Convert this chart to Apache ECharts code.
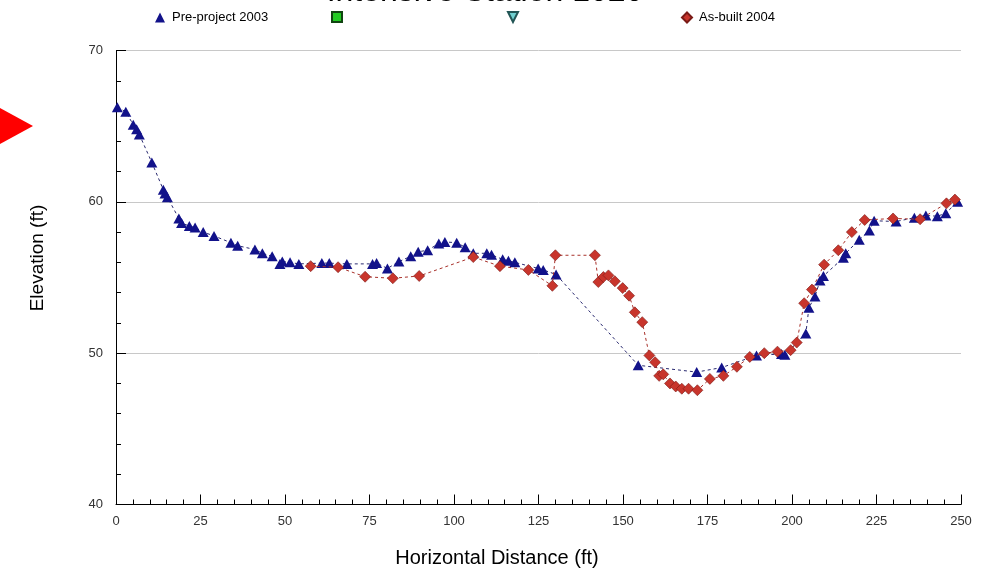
<!DOCTYPE html>
<html>
<head>
<meta charset="utf-8">
<script src="https://cdn.jsdelivr.net/npm/echarts@6/dist/echarts.min.js"></script>
<style>html,body{margin:0;padding:0;background:#fff;}#chart{width:981px;height:573px;}</style>
</head>
<body>
<div id="chart"></div>
<script>
// Pre-project 2003 survey points (horizontal distance ft, elevation ft)
const preX = [0.4, 2.9, 5.1, 6.1, 6.9, 10.6, 14.0, 14.5, 15.2, 18.6, 19.4, 21.7, 23.4, 25.8, 29.0, 34.0, 36.0, 41.1, 43.3, 46.2, 48.5, 49.2, 51.5, 54.1, 60.9, 63.1, 68.3, 75.9, 77.1, 80.3, 83.7, 87.2, 89.4, 92.2, 95.5, 97.3, 100.8, 103.3, 105.7, 109.7, 111.1, 114.4, 116.1, 118.0, 124.9, 126.4, 130.2, 154.5, 171.8, 179.2, 189.5, 196.9, 197.9, 204.1, 205.0, 206.8, 208.3, 209.3, 215.2, 215.9, 219.9, 222.9, 224.3, 230.8, 236.2, 239.6, 243.0, 245.5, 249.0];
const preY = [66.25, 65.95, 65.1, 64.8, 64.45, 62.6, 60.8, 60.55, 60.3, 58.9, 58.6, 58.4, 58.3, 58.0, 57.75, 57.3, 57.1, 56.85, 56.6, 56.4, 55.9, 56.05, 56.0, 55.9, 55.95, 55.95, 55.9, 55.9, 55.95, 55.6, 56.05, 56.4, 56.7, 56.8, 57.25, 57.35, 57.3, 57.0, 56.6, 56.6, 56.5, 56.2, 56.1, 56.0, 55.6, 55.5, 55.2, 49.2, 48.75, 49.05, 49.85, 49.95, 49.9, 51.3, 53.0, 53.75, 54.8, 55.1, 56.3, 56.6, 57.5, 58.1, 58.75, 58.7, 58.95, 59.1, 59.05, 59.25, 60.0];
// As-built 2004 survey points
const asbX = [57.6, 65.7, 73.7, 81.9, 89.7, 105.7, 113.6, 122.0, 129.1, 130.0, 141.7, 142.7, 144.2, 145.7, 147.6, 149.9, 151.8, 153.5, 155.7, 157.8, 159.5, 160.7, 161.9, 163.9, 165.6, 167.4, 169.4, 172.0, 175.7, 179.7, 183.7, 187.5, 191.8, 195.7, 199.6, 201.4, 203.6, 205.9, 209.5, 213.7, 217.7, 221.5, 229.9, 237.9, 245.7, 248.2];
const asbY = [55.75, 55.68, 55.05, 54.95, 55.1, 56.35, 55.75, 55.5, 54.45, 56.47, 56.47, 54.7, 55.03, 55.14, 54.75, 54.3, 53.8, 52.7, 52.05, 49.85, 49.4, 48.5, 48.6, 48.0, 47.8, 47.65, 47.65, 47.55, 48.3, 48.5, 49.1, 49.75, 50.0, 50.1, 50.2, 50.7, 53.3, 54.2, 55.85, 56.8, 58.0, 58.8, 58.9, 58.85, 59.9, 60.15];
const seriesNames = ['Pre-project 2003', 'Series 2', 'Series 3', 'As-built 2004'];
const xTicks = {min: 0, max: 250, interval: 25};
const yTicks = {min: 40, max: 70, interval: 10};

const FONT = '"Liberation Sans", Arial, sans-serif';
const chart = echarts.init(document.getElementById('chart'), null, {renderer: 'canvas'});
const pair = (xs, ys) => xs.map((x, i) => [x, ys[i]]);
const invTri = 'path://M0,0 L10,0 L5,10 Z';

function legendAt(left, name, icon, showText) {
  return {
    left: left, top: 11, padding: 0, itemWidth: 10, itemHeight: 10, itemGap: 0,
    selectedMode: false,
    data: [{name: name, icon: icon}],
    formatter: showText ? '{name}' : function () { return ''; },
    textStyle: {fontFamily: FONT, fontSize: 13, color: '#000', padding: [0, 0, 0, 2]}
  };
}

chart.setOption({
  animation: false,
  backgroundColor: '#fff',
  grid: {left: 116, right: 20, top: 50.5, bottom: 68.5, containLabel: false},
  legend: [
    legendAt(155, seriesNames[0], 'triangle', true),
    legendAt(331, seriesNames[1], 'rect', false),
    legendAt(507, seriesNames[2], invTri, false),
    legendAt(681, seriesNames[3], 'diamond', true)
  ],
  xAxis: {
    type: 'value', min: xTicks.min, max: xTicks.max, interval: xTicks.interval,
    axisLine: {show: true, lineStyle: {color: '#000', width: 1}},
    axisTick: {show: true, inside: true, length: 10, lineStyle: {color: '#000'}},
    minorTick: {show: true, splitNumber: 5, length: 5, lineStyle: {color: '#000'}},
    splitLine: {show: false},
    axisLabel: {margin: 10, fontFamily: FONT, fontSize: 13, color: '#333'}
  },
  yAxis: {
    type: 'value', min: yTicks.min, max: yTicks.max, interval: yTicks.interval,
    axisLine: {show: true, lineStyle: {color: '#000', width: 1}},
    axisTick: {show: true, inside: true, length: 10, lineStyle: {color: '#000'}},
    minorTick: {show: true, splitNumber: 5, length: 5, lineStyle: {color: '#000'}},
    splitLine: {show: true, lineStyle: {color: '#c8c8c8', width: 1}},
    axisLabel: {margin: 13, fontFamily: FONT, fontSize: 13, color: '#333'}
  },
  graphic: [
    {type: 'text', style: {text: 'Intensive Station 1020', x: 485, y: -24, align: 'center', fontFamily: FONT, fontSize: 32, fill: '#000'}, z: 10},
    {type: 'polygon', shape: {points: [[0, 108], [33, 126], [0, 144]]}, style: {fill: '#ff0000'}},
    {type: 'text', style: {text: 'Elevation (ft)', x: 0, y: 0, align: 'center', verticalAlign: 'middle', fontFamily: FONT, fontSize: 19, fill: '#000'}, x: 38, y: 258, rotation: Math.PI / 2},
    {type: 'text', style: {text: 'Horizontal Distance (ft)', x: 497, y: 558, align: 'center', verticalAlign: 'middle', fontFamily: FONT, fontSize: 20, fill: '#000'}}
  ],
  series: [
    {
      name: seriesNames[0], type: 'line', data: pair(preX, preY),
      symbol: 'triangle', symbolSize: [11, 10],
      itemStyle: {color: '#12128a'},
      lineStyle: {color: '#2a2a70', width: 1, type: [3, 3]},
      z: 3
    },
    {name: seriesNames[1], type: 'line', data: [], symbol: 'rect', itemStyle: {color: '#22cc22', borderColor: '#114411', borderWidth: 1}},
    {name: seriesNames[2], type: 'line', data: [], symbol: invTri, itemStyle: {color: '#70d0d0', borderColor: '#225555', borderWidth: 1}},
    {
      name: seriesNames[3], type: 'line', data: pair(asbX, asbY),
      symbol: 'diamond', symbolSize: 11,
      itemStyle: {color: '#c8352c', borderColor: '#7a1a16', borderWidth: 0.6},
      lineStyle: {color: '#a8302a', width: 1, type: [3, 3]},
      z: 4
    }
  ]
});
</script>
</body>
</html>
